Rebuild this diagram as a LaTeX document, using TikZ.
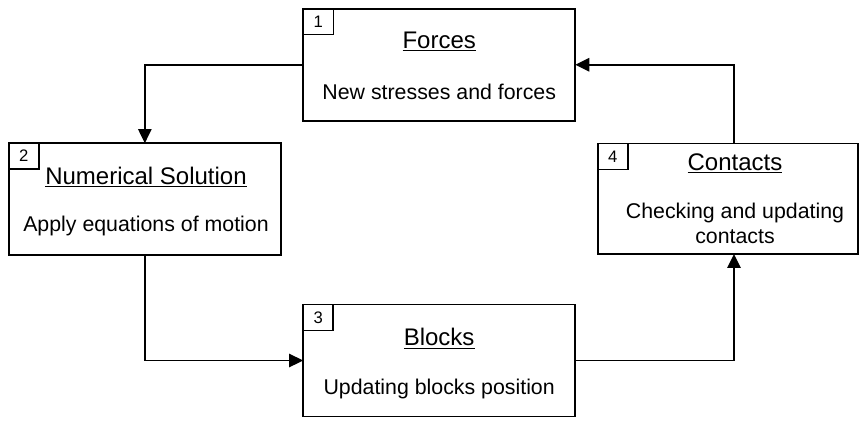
\documentclass[tikz,border=0pt]{standalone}
\usepackage{fontspec}
\setmainfont{Liberation Sans}
\usetikzlibrary{arrows.meta}
\begin{document}
\begin{tikzpicture}[x=0.75pt,y=-0.75pt,
  stage/.style={draw, line width=1.2pt, inner sep=0pt, outer sep=0pt, minimum width=204pt, minimum height=84pt},
  numbox/.style={draw, line width=1.1pt, inner sep=0pt, outer sep=0pt, minimum width=22.5pt, minimum height=19.5pt, anchor=north west, font=\fontsize{12.5}{14}\selectfont},
  ttl/.style={anchor=base, inner sep=0pt, font=\fontsize{18}{21}\selectfont},
  sub/.style={anchor=base, inner sep=0pt, font=\fontsize{16}{19}\selectfont},
  conn/.style={line width=1.2pt, -{Triangle[length=10.5pt,width=10pt]}}]
\useasboundingbox (0,0) rectangle (859,421);
% boxes
\node[stage] (b1) at (439.25,64.75) {};
\node[stage] (b2) at (144.85,199.15) {};
\node[stage] (b3) at (439.15,360.5) {};
\node[stage, minimum width=195pt, minimum height=83pt] (b4) at (727.85,198.65) {};
% number boxes
\node[numbox] (n1) at (b1.north west) {1};
\node[numbox] (n2) at (b2.north west) {2};
\node[numbox] (n3) at (b3.north west) {3};
\node[numbox] (n4) at (b4.north west) {4};
% texts
\node[ttl] (t1) at (439.25,48) {\underline{Forces}};
\node[sub] (s1) at (439.25,99) {New stresses and forces};
\node[ttl] (t2) at (146,184.3) {\underline{Numerical Solution}};
\node[sub] (s2) at (146,231.7) {Apply equations of motion};
\node[ttl] (t3) at (439.15,345.7) {\underline{Blocks}};
\node[sub] (s3) at (439.15,394) {Updating blocks position};
\node[ttl] (t4) at (735,170) {\underline{Contacts}};
\node[sub] (s4a) at (735,218) {Checking and updating};
\node[sub] (s4b) at (735,243) {contacts};
% connectors
\coordinate (c4) at (734,198);
\draw[conn] (b1.west) -| (b2.north);
\draw[conn] (b2.south) |- (b3.west);
\draw[conn] (b3.east) -| (b4.south -| c4);
\draw[conn] (b4.north -| c4) |- (b1.east);
\end{tikzpicture}
\end{document}
